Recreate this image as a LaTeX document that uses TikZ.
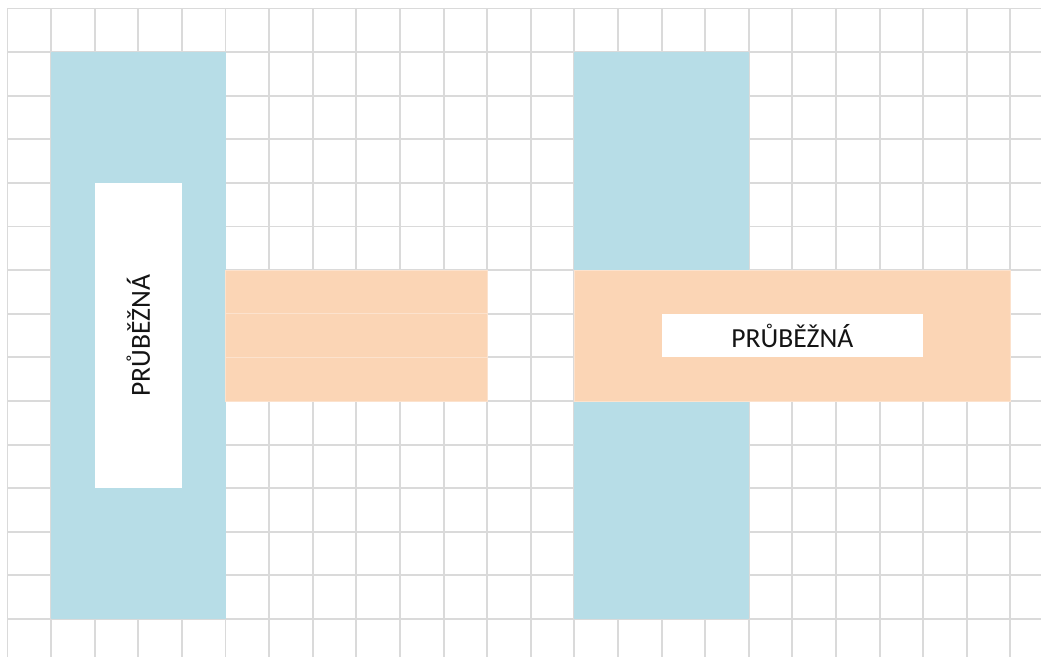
\documentclass[tikz,border=0pt]{standalone}
\usepackage{fontspec}
\setmainfont{Carlito}
\usetikzlibrary{positioning}
\definecolor{gridline}{HTML}{DADADA}
\definecolor{road}{HTML}{B7DDE7}
\definecolor{cross}{HTML}{FBD5B5}
\definecolor{seam}{HTML}{FCE2CD}
\definecolor{ink}{HTML}{141414}
\tikzset{
  gridl/.style={draw=gridline, line width=1.3pt},
  bar/.style={fill=road},
  stripe/.style={fill=cross, draw=seam, line width=0.5pt},
  namebox/.style={fill=white, inner sep=0pt, text=ink,
    font=\fontsize{18pt}{22pt}\selectfont},
}

\begin{document}
\begin{tikzpicture}[x=1cm, y=-1cm]
  \useasboundingbox (-0.172,-0.195) rectangle (23.704,14.874);
  % grid
  \foreach \i in {0,...,23} \draw[gridl] (\i,0) -- (\i,14.874);
  \foreach \j in {0,...,14} \draw[gridl] (0,\j) -- (23.704,\j);
  % left: T-junction
  \fill[bar] (1,1) rectangle (5,14);
  \foreach \s in {6,7,8} \draw[stripe] (5,\s) rectangle (11,\s+1);
  \node[namebox, rotate=90, minimum width=7cm, minimum height=2cm] (lmain) at (3,7.5) {PRŮBĚŽNÁ};
  % right: crossroads
  \fill[bar] (13,1) rectangle (17,14);
  \draw[stripe] (13,6) rectangle (23,9);
  \node[namebox, minimum width=6cm, minimum height=1cm] (rmain) at (18,7.5) {PRŮBĚŽNÁ};
\end{tikzpicture}
\end{document}
